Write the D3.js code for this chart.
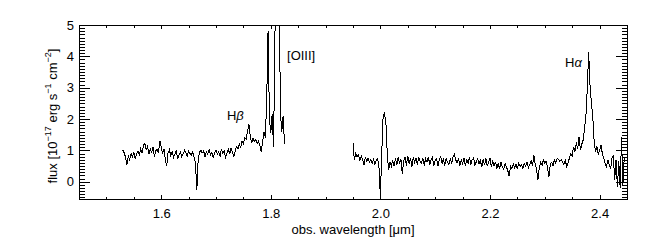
<!DOCTYPE html>
<html><head><meta charset="utf-8">
<script src="https://cdn.jsdelivr.net/npm/d3@7"></script>
<style>
body{margin:0;background:#fff}
svg text{font-family:"Liberation Sans",Arial,sans-serif;fill:#000}
</style>
</head><body>
<svg id="c" width="650" height="250"></svg>
<script>
// ---------------- data ----------------
const waveA = [
1.530,1.5325,1.535,1.5375,1.54,1.5425,1.545,1.5475,1.55,1.5525,
1.555,1.5575,1.56,1.5625,1.565,1.5675,1.57,1.5725,1.575,1.5775,
1.58,1.5825,1.585,1.5875,1.59,1.5925,1.595,1.5975,1.6,1.6025,
1.605,1.6075,1.61,1.6125,1.615,1.6175,1.62,1.6225,1.625,1.6275,
1.63,1.6325,1.635,1.6375,1.64,1.6425,1.645,1.6475,1.65,1.6525,
1.655,1.6575,1.66,1.6625,1.665,1.6675,1.67,1.6725,1.675,1.6775,
1.68,1.6825,1.685,1.6875,1.69,1.6925,1.695,1.6975,1.7,1.7025,
1.705,1.7075,1.71,1.7125,1.715,1.7175,1.72,1.7225,1.725,1.7275,
1.73,1.7325,1.735,1.7375,1.74,1.7425,1.745,1.7475,1.75,1.7525,
1.755,1.7575,1.76,1.7625,1.765,1.7675,1.77,1.7725,1.775,1.7775,
1.78,1.7825,1.785,1.7875,1.79,1.7925,1.795,1.7975,1.8,1.8025,
1.805,1.8075,1.81,1.8125,1.815,1.8175,1.82,1.8225,1.825];
const fluxA = [
1.01,0.92,0.78,0.55,0.82,0.70,0.90,0.80,0.95,0.72,
0.88,0.98,0.85,1.05,0.92,1.15,1.23,1.02,1.12,0.88,
1.05,0.95,1.10,0.80,0.98,1.05,0.92,1.31,1.12,0.90,
1.05,0.72,0.51,0.92,1.02,0.82,0.95,0.78,0.88,1.00,
0.72,0.85,0.95,0.80,0.88,1.00,0.92,0.82,0.98,0.90,
0.85,0.95,0.78,0.60,-0.26,0.72,0.95,1.00,0.92,0.98,
0.80,0.95,0.88,1.02,0.85,0.95,0.75,0.92,1.00,0.88,
0.95,0.82,1.05,0.90,0.98,0.78,0.92,1.05,0.88,1.08,
0.95,0.80,0.98,1.12,1.05,1.20,1.10,1.30,1.22,1.40,
1.35,1.60,1.84,1.45,1.23,1.40,1.28,1.35,1.22,1.30,
1.15,0.96,1.25,1.60,1.40,2.60,4.80,2.00,1.55,2.15,
1.10,4.50,8.50,9.50,7.00,2.20,1.60,2.10,1.20];

const waveB = [
1.95,1.9525,1.955,1.9575,1.96,1.9625,1.965,1.9675,1.97,1.9725,
1.975,1.9775,1.98,1.9825,1.985,1.9875,1.99,1.9925,1.995,1.9975,
2.0,2.0025,2.005,2.0075,2.01,2.0125,2.015,2.0175,2.02,2.0225,
2.025,2.0275,2.03,2.0325,2.035,2.0375,2.04,2.0425,2.045,2.0475,
2.05,2.0525,2.055,2.0575,2.06,2.0625,2.065,2.0675,2.07,2.0725,
2.075,2.0775,2.08,2.0825,2.085,2.0875,2.09,2.0925,2.095,2.0975,
2.1,2.1025,2.105,2.1075,2.11,2.1125,2.115,2.1175,2.12,2.1225,
2.125,2.1275,2.13,2.1325,2.135,2.1375,2.14,2.1425,2.145,2.1475,
2.15,2.1525,2.155,2.1575,2.16,2.1625,2.165,2.1675,2.17,2.1725,
2.175,2.1775,2.18,2.1825,2.185,2.1875,2.19,2.1925,2.195,2.1975,
2.2,2.2025,2.205,2.2075,2.21,2.2125,2.215,2.2175,2.22,2.2225,
2.225,2.2275,2.23,2.2325,2.235,2.2375,2.24,2.2425,2.245,2.2475,
2.25,2.2525,2.255,2.2575,2.26,2.2625,2.265,2.2675,2.27,2.2725,
2.275,2.2775,2.28,2.2825,2.285,2.2875,2.29,2.2925,2.295,2.2975,
2.3,2.3025,2.305,2.3075,2.31,2.3125,2.315,2.3175,2.32,2.3225,
2.325,2.3275,2.33,2.3325,2.335,2.3375,2.34,2.3425,2.345,2.3475,
2.35,2.3525,2.355,2.3575,2.36,2.3625,2.365,2.3675,2.37,2.3725,
2.375,2.3775,2.38,2.3825,2.385,2.3875,2.39,2.3925,2.395,2.3975,
2.4,2.4025,2.405,2.4075,2.41,2.4125,2.415,2.4175,2.42,2.4225,
2.425,2.4275,2.43,2.4325,2.435,2.4375,2.44,2.4425,2.445];
const fluxB = [
1.23,0.70,0.92,0.80,0.85,0.68,0.82,0.72,0.54,0.78,
0.65,0.75,0.62,0.70,0.58,0.72,0.55,0.68,0.75,0.43,
-0.48,0.95,2.10,2.18,1.90,0.90,0.38,0.62,0.50,0.68,
0.50,0.74,0.55,0.80,0.58,0.72,0.25,0.68,0.78,0.52,
0.82,0.58,0.74,0.48,0.78,0.62,0.76,0.55,0.80,0.64,
0.58,0.76,0.52,0.74,0.62,0.80,0.55,0.70,0.78,0.52,
0.68,0.74,0.50,0.70,0.80,0.58,0.74,0.52,0.76,0.62,
0.56,0.74,0.58,0.80,0.88,0.70,0.60,0.74,0.52,0.70,
0.58,0.76,0.50,0.72,0.58,0.78,0.55,0.70,0.76,0.52,
0.64,0.74,0.56,0.68,0.46,0.72,0.54,0.74,0.50,0.64,
0.76,0.46,0.68,0.50,0.64,0.42,0.60,0.40,0.62,0.48,
0.40,0.58,0.48,0.35,0.18,0.50,0.42,0.58,0.45,0.55,
0.40,0.60,0.48,0.55,0.42,0.58,0.50,0.62,0.45,0.55,
0.68,0.50,0.85,0.55,0.40,0.06,0.45,0.62,0.52,0.70,
0.58,0.65,0.45,0.16,0.55,0.62,0.50,0.70,0.60,0.75,
0.72,0.65,0.70,0.62,0.55,0.68,0.48,0.62,0.75,0.90,
0.82,1.12,0.95,1.25,1.05,1.44,1.00,1.20,1.33,1.70,
2.10,2.95,4.15,3.10,2.50,2.10,1.30,0.95,1.15,0.88,
1.00,1.17,0.90,0.75,0.60,0.48,0.70,0.55,0.40,0.75,
0.85,0.06,0.70,-0.16,0.65,-0.20,1.44,-0.10,0.80];

const xTickValues = [1.6, 1.8, 2.0, 2.2, 2.4];
const xTickLabels = ["1.6", "1.8", "2.0", "2.2", "2.4"];
const yTickValues = [0, 1, 2, 3, 4, 5];
const yTickLabels = ["0", "1", "2", "3", "4", "5"];
const lineLabels = ["H", "[OIII]", "H"];
const lineGreek = ["β", "", "α"];
const lineLabelWave = [1.720, 1.8296, 2.3369];
const lineLabelFlux = [1.97, 3.885, 3.66];

// ---------------- layout ----------------
const L = 79, R = 627, T = 25, B = 199;
const svg = d3.select("#c");
svg.append("rect").attr("width", 650).attr("height", 250).attr("fill", "#fff");

const x = d3.scaleLinear().domain([1.45, 2.45]).range([L, R]);
const y = d3.scaleLinear().domain([-0.55, 5]).range([B, T]);

svg.append("clipPath").attr("id", "clip")
  .append("rect").attr("x", L).attr("y", T).attr("width", R - L).attr("height", B - T);

const line = d3.line().x(d => x(d[0])).y(d => y(d[1]));
const segA = waveA.map((w, i) => [w, fluxA[i]]);
const segB = waveB.map((w, i) => [w, fluxB[i]]);
const g = svg.append("g").attr("clip-path", "url(#clip)");
[segA, segB].forEach(s => {
  g.append("path").attr("d", line(s)).attr("fill", "none")
    .attr("stroke", "#000").attr("stroke-width", 1).attr("shape-rendering", "crispEdges");
});

// ticks
const xMinor = d3.range(1.45, 2.451, 0.05).filter(v => Math.abs(v * 5 - Math.round(v * 5)) > 1e-6);
const yMinor = d3.range(-0.5, 5.001, 0.1).filter(v => Math.abs(v - Math.round(v)) > 1e-6);

function styleAxis(sel) {
  sel.select(".domain").remove();
  sel.selectAll("line").attr("stroke", "#000").attr("shape-rendering", "crispEdges");
  sel.selectAll("text").attr("font-family", "Liberation Sans, Arial, sans-serif").attr("font-size", 13).attr("fill", "#000");
}
const fmtX = (d, i) => xTickLabels[i];
const fmtY = (d, i) => yTickLabels[i];

styleAxis(svg.append("g").attr("transform", `translate(0,${B})`)
  .call(d3.axisBottom(x).tickValues(xTickValues).tickFormat(fmtX).tickSize(-4).tickPadding(10)));
styleAxis(svg.append("g").attr("transform", `translate(0,${B})`)
  .call(d3.axisBottom(x).tickValues(xMinor).tickFormat("").tickSize(-2.5)));
styleAxis(svg.append("g").attr("transform", `translate(0,${T})`)
  .call(d3.axisTop(x).tickValues(xTickValues).tickFormat("").tickSize(-4)));
styleAxis(svg.append("g").attr("transform", `translate(0,${T})`)
  .call(d3.axisTop(x).tickValues(xMinor).tickFormat("").tickSize(-2.5)));

styleAxis(svg.append("g").attr("transform", `translate(${L},0)`)
  .call(d3.axisLeft(y).tickValues(yTickValues).tickFormat(fmtY).tickSize(-11).tickPadding(5)));
styleAxis(svg.append("g").attr("transform", `translate(${L},0)`)
  .call(d3.axisLeft(y).tickValues(yMinor).tickFormat("").tickSize(-5.5)));
styleAxis(svg.append("g").attr("transform", `translate(${R},0)`)
  .call(d3.axisRight(y).tickValues(yTickValues).tickFormat("").tickSize(-11)));
styleAxis(svg.append("g").attr("transform", `translate(${R},0)`)
  .call(d3.axisRight(y).tickValues(yMinor).tickFormat("").tickSize(-5.5)));

// frame
svg.append("rect").attr("x", L + 0.5).attr("y", T + 0.5).attr("width", R - L).attr("height", B - T)
  .attr("fill", "none").attr("stroke", "#000").attr("stroke-width", 1);

// line labels
lineLabels.forEach((t, i) => {
  const tx = svg.append("text").attr("x", x(lineLabelWave[i])).attr("y", y(lineLabelFlux[i]))
    .attr("font-size", 13);
  tx.append("tspan").text(t);
  if (lineGreek[i]) tx.append("tspan").attr("font-style", "italic").text(lineGreek[i]);
});

// axis titles
svg.append("text").attr("x", (L + R) / 2).attr("y", 234).attr("text-anchor", "middle")
  .attr("font-size", 13).text("obs. wavelength [μm]");

const yt = svg.append("text").attr("transform", "translate(57,116) rotate(-90)")
  .attr("text-anchor", "middle").attr("font-size", 13);
yt.append("tspan").text("flux [10");
yt.append("tspan").attr("font-size", 9).attr("dy", -6).text("−17");
yt.append("tspan").attr("dy", 6).text(" erg s");
yt.append("tspan").attr("font-size", 9).attr("dy", -6).text("−1");
yt.append("tspan").attr("dy", 6).text(" cm");
yt.append("tspan").attr("font-size", 9).attr("dy", -6).text("−2");
yt.append("tspan").attr("dy", 6).text("]");
</script>
</body></html>
